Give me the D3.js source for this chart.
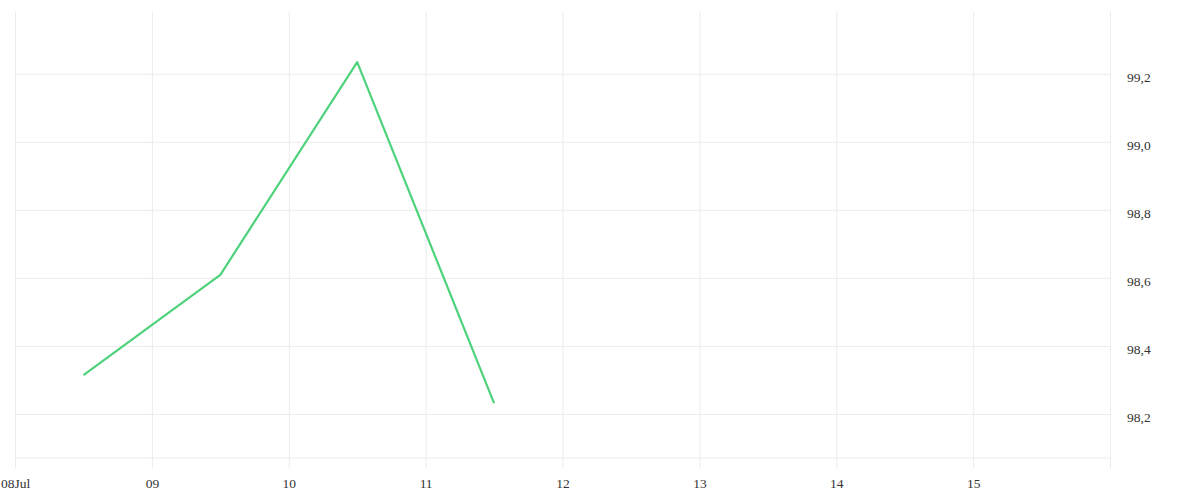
<!DOCTYPE html>
<html>
<head>
<meta charset="utf-8">
<script src="https://cdn.jsdelivr.net/npm/d3@7"></script>
<style>
  body { margin: 0; background: #fff; }
  svg text { font-family: "Liberation Serif", serif; font-size: 13.5px; fill: #333; }
  .grid line { stroke: #ececec; }
  .grid .domain { display: none; }
</style>
</head>
<body>
<div id="chart"></div>
<script>
  // data: one value per day, at midday
  const dates = ['2024-07-08T12:00', '2024-07-09T12:00', '2024-07-10T12:00', '2024-07-11T12:00']
  const values = [98.314, 98.609, 99.234, 98.232]
  const yTicks = [98.2, 98.4, 98.6, 98.8, 99.0, 99.2]
  const xRange = ['2024-07-08T00:00', '2024-07-16T00:00']
  const yDomain = [98.0706, 99.3816]

  const w = 1200
  const h = 500
  const padLeft = 15
  const padRight = 1110
  const padTop = 12
  const padBottom = 458

  const parse = d3.timeParse('%Y-%m-%dT%H:%M')

  const xScale = d3.scaleTime()
                  .domain(xRange.map(parse))
                  .range([padLeft, padRight])

  const yScale = d3.scaleLinear()
                  .domain(yDomain)
                  .range([padBottom, padTop])

  const svg = d3.select('#chart')
              .append('svg')
              .attr('width', w)
              .attr('height', h)

  // horizontal grid + right labels
  const yAxis = d3.axisRight(yScale)
                  .tickValues(yTicks)
                  .tickSize(-(padRight - padLeft))
                  .tickPadding(17)
                  .tickFormat(d => d3.format('.1f')(d).replace('.', ','))

  const gy = svg.append('g')
      .attr('class', 'grid')
      .attr('transform', `translate(${padRight}, 0)`)
      .call(yAxis)
  gy.selectAll('text').attr('dy', '0.58em')

  // bottom edge of the plot
  svg.append('line')
      .attr('x1', padLeft)
      .attr('x2', padRight)
      .attr('y1', yScale.range()[0])
      .attr('y2', yScale.range()[0])
      .attr('stroke', '#ececec')

  // vertical grid + day labels
  const dayFmt = d3.timeFormat('%d')
  const xAxis = d3.axisBottom(xScale)
                  .ticks(d3.timeDay.every(1))
                  .tickSize(-(468 - padTop))
                  .tickPadding(10)
                  .tickFormat((d, i) => {
                    if (d.getDate() === 16) return ''
                    if (i === 0) return dayFmt(d) + d3.timeFormat('%b')(d)
                    return dayFmt(d)
                  })

  svg.append('g')
      .attr('class', 'grid')
      .attr('transform', 'translate(0, 468)')
      .call(xAxis)

  const line = d3.line()
                .x((d, i) => xScale(parse(dates[i])))
                .y(d => yScale(d))

  svg.append('path')
      .datum(values)
      .attr('d', line)
      .attr('fill', 'none')
      .attr('stroke', '#4ed27c')
      .attr('stroke-width', 2.2)
      .attr('stroke-linejoin', 'round')
</script>
</body>
</html>
